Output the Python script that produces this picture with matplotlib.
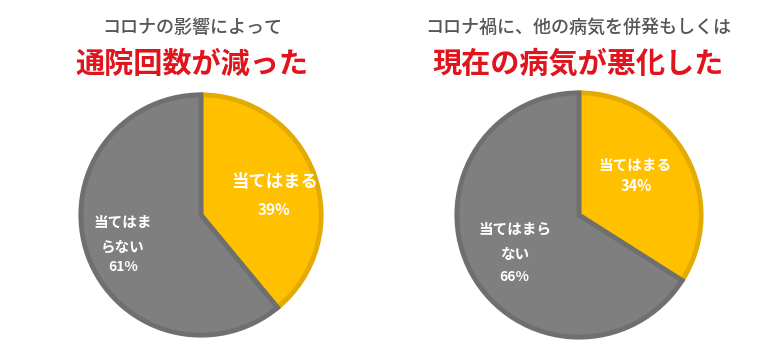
import matplotlib
matplotlib.use("Agg")
import matplotlib.pyplot as plt

plt.rcParams['font.family'] = ['Noto Sans CJK JP', 'DejaVu Sans']

# data
subtitles = ["コロナの影響によって", "コロナ禍に、他の病気を併発もしくは"]
titles = ["通院回数が減った", "現在の病気が悪化した"]
yes_share = [39, 34]
no_share = [61, 66]
yes_labels = ["当てはまる", "当てはまる"]
no_labels = ["当てはま\nらない", "当てはまら\nない"]

fill_colors = ["#FFC000", "#7F7F7F"]
edge_colors = ["#E3AA00", "#6F6F6F"]

fig = plt.figure(figsize=(7.8, 3.51), dpi=100)
W, H = 780, 351

# pie boxes in pixels: (center x, center y from top, radius)
boxes = [(201, 215, 122), (579, 215, 124)]
# label positions in pie units
yes_pos = [((0.60, 0.27), (0.60, 0.04)), ((0.45, 0.40), (0.46, 0.23))]
no_pos = [((-0.64, -0.16), (-0.64, -0.43)), ((-0.52, -0.21), (-0.52, -0.50))]
yes_size = [12.5, 10.5]
no_size = [10.5, 10.5]
pct_yes_size = [11, 10.5]
pct_no_size = [10, 10]

for i in range(2):
    cx, cy, r = boxes[i]
    ax = fig.add_axes([(cx - r) / W, (H - cy - r) / H, 2 * r / W, 2 * r / H])
    wedges, _ = ax.pie([yes_share[i], no_share[i]], colors=fill_colors,
                       startangle=90, counterclock=False, radius=0.985)
    for w, ec in zip(wedges, edge_colors):
        w.set_edgecolor(ec)
        w.set_linewidth(3.5)
        w.set_joinstyle('miter')
    ax.set_xlim(-1, 1)
    ax.set_ylim(-1, 1)
    ax.set_aspect('equal')
    ax.axis('off')

    (lx, ly), (px, py) = yes_pos[i]
    ax.text(lx, ly, yes_labels[i], color='white', fontsize=yes_size[i],
            fontweight='bold', ha='center', va='center')
    ax.text(px, py, f"{yes_share[i]}%", color='white', fontsize=pct_yes_size[i],
            fontweight='bold', ha='center', va='center')
    (lx, ly), (px, py) = no_pos[i]
    ax.text(lx, ly, no_labels[i], color='white', fontsize=no_size[i],
            fontweight='bold', ha='center', va='center', linespacing=1.7)
    ax.text(px, py, f"{no_share[i]}%", color='white', fontsize=pct_no_size[i],
            fontweight='bold', ha='center', va='center')

    tx = [192, 578][i]
    fig.text(tx / W, 1 - 28 / H, subtitles[i], color='#555555', fontsize=13,
             fontweight='medium', ha='center', va='center')
    fig.text(tx / W, 1 - 64 / H, titles[i], color='#E0141C', fontsize=21,
             fontweight='bold', ha='center', va='center')

fig.savefig("out.png", dpi=100, facecolor='white')
plt.close(fig)
